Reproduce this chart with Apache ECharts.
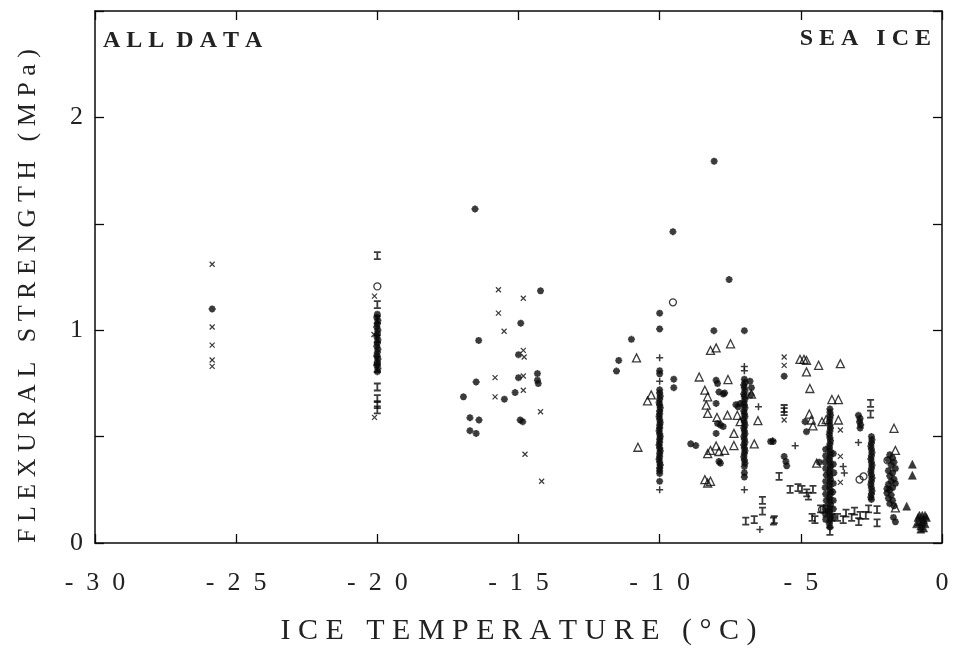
<!DOCTYPE html>
<html>
<head>
<meta charset="utf-8">
<script src="https://cdn.jsdelivr.net/npm/echarts@6/dist/echarts.min.js"></script>
<style>html,body{margin:0;padding:0;background:#fff;}#chart{width:953px;height:651px;}</style>
</head>
<body>
<div id="chart"></div>
<script>
// ---- data (temperature °C, flexural strength MPa) ----
const xTicks = [-30, -25, -20, -15, -10, -5, 0];
const yTicks = [0, 1, 2];

const crossPoints = [
  [-25.85,1.31],[-25.85,1.015],[-25.85,0.93],[-25.85,0.86],[-25.85,0.83],
  [-20.1,1.16],[-20.1,0.59],[-20.12,0.98],
  [-15.71,1.19],[-14.83,1.15],[-15.71,1.08],[-15.51,0.995],[-14.83,0.905],[-14.8,0.874],
  [-15.83,0.777],[-14.83,0.785],[-15.83,0.687],[-14.83,0.718],[-14.22,0.617],[-14.77,0.417],[-14.18,0.29],
  [-5.59,0.874],[-5.59,0.835],[-5.59,0.578],
  [-3.6,0.531],[-3.6,0.407],[-3.6,0.285]
];

const starPoints = [
  [-25.85,1.10],
  [-16.54,1.57],[-14.22,1.185],[-14.92,1.033],[-16.41,0.952],[-15.0,0.885],
  [-14.33,0.796],[-14.33,0.765],[-14.3,0.749],[-16.5,0.757],[-15.0,0.777],
  [-16.95,0.687],[-15.5,0.676],[-15.12,0.707],[-16.72,0.589],[-16.4,0.578],
  [-14.94,0.578],[-14.85,0.57],[-16.72,0.528],[-16.5,0.515],
  [-11.45,0.858],[-11.53,0.808],[-11.0,0.957],
  [-10.0,1.08],[-10.0,1.006],[-10.0,0.81],[-10.0,0.795],[-10.0,0.29],
  [-9.53,1.463],[-9.5,0.77],[-9.5,0.73],
  [-8.07,1.794],[-8.08,0.998],[-7.54,1.238],[-7.0,0.998],
  [-8.0,0.765],[-7.95,0.749],[-7.9,0.71],[-7.75,0.70],[-7.7,0.705],[-8.0,0.656],
  [-7.95,0.562],[-7.85,0.555],[-7.75,0.547],[-8.0,0.515],[-7.9,0.383],[-7.85,0.375],
  [-8.9,0.466],[-8.72,0.458],
  [-7.3,0.65],[-7.22,0.64],[-7.15,0.655],[-6.8,0.76],[-6.75,0.73],[-6.77,0.695],
  [-6.07,0.477],[-5.98,0.477],
  [-5.59,0.784],[-5.59,0.407],[-5.53,0.383],[-5.5,0.363],
  [-4.85,0.57],[-4.8,0.523],[-4.35,0.38],
  [-2.96,0.60],[-2.9,0.585],[-2.92,0.57],[-2.88,0.555],[-2.9,0.54]
];

const column20 = [
  [-20.0,1.075],[-20.02,1.06],[-19.98,1.045],[-20.0,1.03],[-20.02,1.015],[-19.98,1.0],[-20.0,0.985],
  [-20.02,0.97],[-19.98,0.955],[-20.0,0.94],[-20.02,0.925],[-19.98,0.91],[-20.0,0.895],[-20.02,0.88],
  [-19.98,0.865],[-20.0,0.85],[-20.02,0.835],[-19.98,0.82],[-20.0,0.805]
];

const column10 = [
  [-10.0,0.72],[-10.0,0.705],[-9.98,0.69],[-10.0,0.675],[-10.02,0.66],[-10.0,0.648],[-9.98,0.635],
  [-10.0,0.62],[-10.0,0.607],[-10.02,0.594],[-10.0,0.58],[-9.98,0.566],[-10.0,0.553],[-10.0,0.54],
  [-10.02,0.527],[-10.0,0.513],[-9.98,0.5],[-10.0,0.487],[-10.0,0.474],[-10.02,0.46],[-10.0,0.447],
  [-9.98,0.434],[-10.0,0.42],[-10.0,0.406],[-10.02,0.393],[-10.0,0.38],[-9.98,0.366],[-10.0,0.353],
  [-10.0,0.34],[-10.0,0.327]
];

const column7 = [
  [-7.0,0.77],[-6.98,0.755],[-7.02,0.742],[-7.0,0.73],[-6.98,0.715],[-7.02,0.70],[-7.0,0.688],
  [-6.98,0.675],[-7.02,0.66],[-7.0,0.648],[-6.98,0.635],[-7.02,0.62],[-7.0,0.607],[-6.98,0.595],
  [-7.02,0.58],[-7.0,0.567],[-6.98,0.553],[-7.02,0.54],[-7.0,0.527],[-6.98,0.513],[-7.02,0.50],
  [-7.0,0.487],[-6.98,0.473],[-7.02,0.46],[-7.0,0.447],[-6.98,0.433],[-7.0,0.42],[-7.02,0.405],
  [-7.0,0.39],[-6.98,0.375],[-7.0,0.36],[-7.0,0.33],[-7.0,0.31]
];

const column4 = [
  [-3.97,0.63],[-3.97,0.615],[-3.95,0.60],[-3.97,0.585],[-3.99,0.57],[-3.97,0.555],[-3.95,0.54],
  [-3.97,0.525],[-3.99,0.51],[-3.97,0.495],[-3.95,0.48],[-3.97,0.465],[-3.99,0.45],[-3.97,0.435],
  [-3.95,0.42],[-3.97,0.405],[-3.99,0.39],[-3.97,0.375],[-3.95,0.36],[-3.97,0.345],[-3.99,0.33],
  [-3.97,0.315],[-3.95,0.30],[-3.97,0.285],[-3.99,0.27],[-3.97,0.255],[-3.95,0.24],[-3.97,0.225],
  [-3.99,0.21],[-3.97,0.195],[-3.95,0.18],[-3.97,0.165],[-3.99,0.15],[-3.97,0.135],[-3.95,0.12],
  [-3.97,0.105],[-3.99,0.09],[-3.97,0.075],
  [-4.12,0.44],[-4.12,0.41],[-4.14,0.38],[-4.12,0.35],[-4.1,0.32],[-4.12,0.29],[-4.14,0.26],
  [-4.12,0.23],[-4.1,0.2],[-4.12,0.17],[-4.14,0.14],[-4.12,0.11],
  [-3.85,0.42],[-3.85,0.37],[-3.83,0.33],[-3.85,0.28],[-3.87,0.24],[-3.85,0.2],[-3.85,0.16],[-3.83,0.12]
];

const column25 = [
  [-2.5,0.50],[-2.48,0.485],[-2.5,0.47],[-2.52,0.455],[-2.5,0.44],[-2.48,0.425],[-2.5,0.41],
  [-2.52,0.395],[-2.5,0.38],[-2.48,0.365],[-2.5,0.35],[-2.52,0.335],[-2.5,0.32],[-2.48,0.305],
  [-2.5,0.29],[-2.52,0.275],[-2.5,0.26],[-2.48,0.245],[-2.5,0.23],[-2.52,0.215],[-2.5,0.205]
];

const column18 = [
  [-1.85,0.415],[-1.75,0.40],[-1.9,0.39],[-1.7,0.38],[-1.8,0.365],[-1.65,0.35],[-1.9,0.34],
  [-1.75,0.33],[-1.85,0.315],[-1.7,0.30],[-1.8,0.29],[-1.65,0.28],[-1.9,0.275],[-1.75,0.26],
  [-1.95,0.255],[-1.85,0.25],[-1.95,0.235],[-1.8,0.225],[-1.9,0.21],[-1.75,0.2],[-1.85,0.185],
  [-1.7,0.175],[-1.72,0.12],[-1.65,0.10]
];

const ibarPoints = [
  [-20.0,1.35],[-20.0,1.12],[-20.0,1.05],[-20.0,0.96],[-20.0,0.86],[-20.0,0.82],
  [-20.0,0.733],[-20.0,0.678],[-20.0,0.65],[-20.0,0.626],
  [-6.36,0.2],[-6.36,0.15],[-6.95,0.103],[-6.65,0.11],[-5.97,0.103],
  [-5.77,0.313],[-5.94,0.11],[-5.59,0.632],[-5.59,0.617],
  [-5.38,0.252],[-5.1,0.26],[-4.96,0.252],[-4.79,0.236],[-4.57,0.252],[-4.73,0.22],
  [-4.6,0.12],[-4.5,0.11],[-4.3,0.16],[-4.1,0.14],[-3.9,0.12],[-3.97,0.055],
  [-3.7,0.12],[-3.5,0.11],[-3.4,0.14],[-3.2,0.12],[-3.1,0.15],[-2.95,0.1],
  [-2.9,0.13],[-2.7,0.13],[-2.6,0.16],[-2.3,0.157],[-2.3,0.095],
  [-2.53,0.656],[-2.53,0.606]
];

const plusPoints = [
  [-10.0,0.87],[-10.0,0.76],[-10.0,0.25],[-7.0,0.83],[-7.0,0.81],[-7.0,0.25],
  [-6.5,0.64],[-6.0,0.48],[-5.2,0.457],[-3.46,0.329],[-6.45,0.064],[-2.96,0.472],[-3.5,0.36]
];

const circlePoints = [
  [-20.0,1.206],[-9.53,1.131],[-4.25,0.157],[-4.1,0.16],[-2.78,0.313],[-2.92,0.298],[-1.93,0.388]
];

const openTrianglePoints = [
  [-10.82,0.87],[-10.3,0.696],[-10.43,0.668],[-10.77,0.45],
  [-8.6,0.78],[-8.2,0.905],[-8.0,0.917],[-7.49,0.936],[-7.58,0.768],
  [-8.4,0.718],[-8.3,0.687],[-8.35,0.648],[-8.3,0.609],[-7.97,0.59],[-7.6,0.601],
  [-7.37,0.515],[-7.37,0.458],[-8.3,0.42],[-8.2,0.435],[-8.0,0.456],[-7.9,0.43],[-7.7,0.435],
  [-8.4,0.298],[-8.3,0.282],[-8.2,0.29],[-7.25,0.60],[-7.15,0.57],
  [-6.52,0.575],[-6.65,0.466],[-6.75,0.70],
  [-5.03,0.863],[-4.89,0.863],[-4.8,0.858],[-4.37,0.835],[-3.6,0.843],[-4.8,0.804],
  [-4.68,0.726],[-3.9,0.674],[-3.67,0.674],[-4.7,0.606],[-4.63,0.578],[-4.57,0.55],
  [-4.25,0.57],[-4.1,0.58],[-3.67,0.578],[-4.44,0.375],
  [-1.7,0.539],[-1.65,0.435],[-1.65,0.165]
];

const filledTrianglePoints = [
  [-1.05,0.37],[-1.05,0.318],[-1.25,0.173],
  [-0.85,0.12],[-0.8,0.1],[-0.75,0.08],[-0.7,0.13],[-0.65,0.11],[-0.6,0.09],[-0.55,0.12],
  [-0.75,0.065],[-0.65,0.07],[-0.7,0.1],[-0.8,0.13],[-0.6,0.13],[-0.9,0.09]
];

// ---- symbols ----
const INK = '#0a0a0a';
const SYM = {
  cross: 'path://M0,0L10,10M10,0L0,10',
  star: 'path://M5,0L5,10M0,5L10,5M1.5,1.5L8.5,8.5M8.5,1.5L1.5,8.5',
  ibar: 'path://M0,0L10,0M5,0L5,10M0,10L10,10',
  plus: 'path://M5,0L5,10M0,5L10,5'
};
function strokeSeries(data, symbol, size, width) {
  return { type: 'scatter', data: data, symbol: symbol, symbolSize: size,
    itemStyle: { color: INK, borderColor: INK, borderWidth: width }, silent: true, z: 3 };
}
const spaced = s => String(s).split('').join('\u2002');
const serif = '"Liberation Serif", "DejaVu Serif", serif';
const TICK = { show: true, inside: false, length: -9, lineStyle: { color: INK, width: 1.3 } };
const LINE = { show: true, onZero: false, lineStyle: { color: INK, width: 1.5 } };

const option = {
  backgroundColor: '#fff',
  animation: false,
  grid: { left: 95, right: 11, top: 11, bottom: 104 },
  xAxis: [
    { type: 'value', min: -30, max: 0, interval: 5, position: 'bottom',
      axisLine: LINE, axisTick: TICK, splitLine: { show: false },
      name: 'I C E   T E M P E R A T U R E   ( ° C )',
      nameLocation: 'middle', nameGap: 73,
      nameTextStyle: { fontFamily: serif, fontSize: 30, color: '#222' },
      axisLabel: { margin: 27, fontFamily: serif, fontSize: 26, color: '#222',
        formatter: v => xTicks.indexOf(v) >= 0 ? spaced(v) : '' }
    },
    { type: 'value', min: -30, max: 0, interval: 5, position: 'top',
      axisLine: LINE, axisTick: TICK, splitLine: { show: false }, axisLabel: { show: false } }
  ],
  yAxis: [
    { type: 'value', min: 0, max: 2.5, interval: 0.5, position: 'left',
      axisLine: LINE, axisTick: TICK, splitLine: { show: false },
      name: 'F L E X U R A L   S T R E N G T H   ( M P a )',
      nameLocation: 'middle', nameGap: 54,
      nameTextStyle: { fontFamily: serif, fontSize: 26, color: '#222', padding: [0, 38, 0, 0] },
      axisLabel: { margin: 12, fontFamily: serif, fontSize: 26, color: '#222',
        formatter: v => yTicks.indexOf(v) >= 0 ? String(v) : '' }
    },
    { type: 'value', min: 0, max: 2.5, interval: 0.5, position: 'right',
      axisLine: LINE, axisTick: TICK, splitLine: { show: false }, axisLabel: { show: false } }
  ],
  graphic: [
    { type: 'text', left: 103, top: 29, style: { text: 'A L L  D A T A', font: 'bold 24px ' + serif, fill: '#222' } },
    { type: 'text', right: 22, top: 27, style: { text: 'S E A   I C E', font: 'bold 24px ' + serif, fill: '#222' } }
  ],
  series: [
    strokeSeries(crossPoints, SYM.cross, 5, 1.2),
    strokeSeries(starPoints, SYM.star, 7, 2),
    strokeSeries(column20, SYM.star, 7, 2),
    strokeSeries(column10, SYM.star, 7, 2),
    strokeSeries(column7, SYM.star, 7, 2),
    strokeSeries(column4, SYM.star, 7, 2),
    strokeSeries(column25, SYM.star, 7, 2),
    strokeSeries(column18, SYM.star, 7, 2),
    strokeSeries(ibarPoints, SYM.ibar, [7, 7], 1.8),
    strokeSeries(plusPoints, SYM.plus, 7, 1.5),
    { type: 'scatter', data: circlePoints, symbol: 'circle', symbolSize: 7, silent: true,
      itemStyle: { color: 'rgba(255,255,255,0)', borderColor: INK, borderWidth: 1.3 } },
    { type: 'scatter', data: openTrianglePoints, symbol: 'triangle', symbolSize: 8, silent: true,
      itemStyle: { color: 'rgba(255,255,255,0)', borderColor: INK, borderWidth: 1.3 } },
    { type: 'scatter', data: filledTrianglePoints, symbol: 'triangle', symbolSize: 8, silent: true,
      itemStyle: { color: INK, borderColor: INK, borderWidth: 0.5 } }
  ]
};
const chart = echarts.init(document.getElementById('chart'), null, { renderer: 'canvas' });
chart.setOption(option);
</script>
</body>
</html>
